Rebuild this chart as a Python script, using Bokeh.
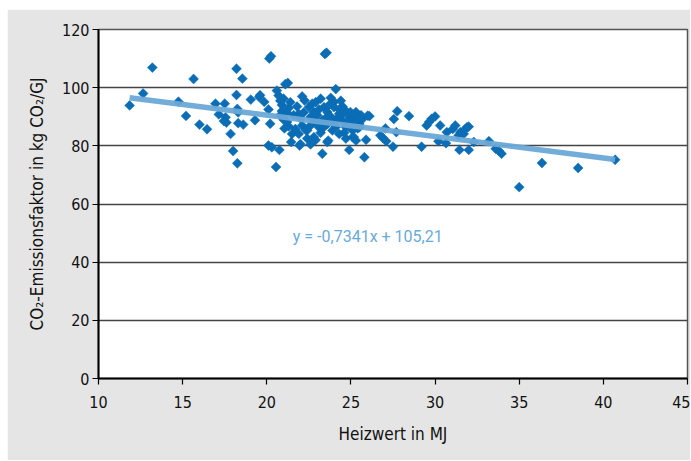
import math
from bokeh.plotting import figure
from bokeh.models import ColumnDataSource, FixedTicker, Label, Spacer
from bokeh.layouts import row, column
from bokeh.embed import file_html
from bokeh.resources import INLINE

# Heizwert (MJ) and CO2 emission factor (kg CO2/GJ)
heizwert = [
    11.85, 12.65, 13.2, 14.75, 15.2, 15.65, 16.0, 16.45, 16.95, 17.5, 17.15, 17.55, 17.45, 17.6,
    17.85, 18.0, 18.25, 18.2, 18.55, 18.2, 18.25, 18.3, 18.3, 18.6, 19.05, 19.3, 19.55, 19.6,
    19.85, 20.15, 20.25, 20.1, 20.2, 20.1, 20.3, 20.75, 20.55, 20.6, 20.7, 21.1, 21.25,
    20.8, 20.9, 21.0, 21.3, 21.0, 21.2, 21.3, 21.5, 21.7, 21.9, 21.45, 21.95, 22.0, 21.9, 22.1,
    22.25, 22.4, 22.5, 22.6, 22.6, 22.8, 22.8, 22.9, 23.1, 23.2, 23.3, 23.4, 23.6, 23.6, 23.3,
    23.6, 23.65, 23.45, 23.55, 23.9, 24.0, 24.0, 24.1, 24.3, 24.3, 24.3, 24.5, 24.7, 24.7, 24.7,
    24.9, 24.9, 25.1, 25.3, 25.3, 25.5, 25.7, 25.8, 25.9, 26.1,
    21.6, 21.8, 22.0, 22.2, 22.3, 22.7, 22.9, 23.0, 23.1, 23.2, 23.4, 23.5, 23.7, 23.8, 23.9,
    24.1, 24.2, 24.4, 24.5, 24.6, 24.8, 25.0, 25.0, 25.2, 25.4, 25.4, 25.6, 25.1, 22.4, 22.6,
    21.2, 21.4, 20.9, 21.05, 20.8, 22.1, 22.9, 23.8, 24.4, 24.97, 25.26, 25.5, 25.5, 25.17, 26.0,
    26.75, 26.9, 27.1, 27.05, 27.5, 27.55, 27.7, 27.75, 28.45, 29.2, 29.5, 29.65, 29.8, 30.0,
    30.3, 30.2, 30.65, 30.7, 31.05, 31.2, 31.4, 31.5, 31.45, 31.7, 31.8, 31.9, 32.0, 32.0, 32.3,
    33.2, 33.6, 33.8, 33.95, 35.0, 36.35, 38.5, 40.7,
]
emissionsfaktor = [
    93.9, 98.0, 106.9, 95.2, 90.3, 103.0, 87.3, 85.7, 94.5, 94.5, 90.8, 89.8, 88.5, 88.0,
    84.1, 78.2, 74.0, 106.5, 103.1, 97.5, 92.7, 91.5, 87.8, 87.3, 95.9, 88.8, 96.8, 97.4,
    95.1, 110.0, 110.8, 92.5, 87.6, 80.1, 79.5, 78.6, 72.7, 99.0, 97.3, 101.2, 101.6,
    95.5, 94.0, 96.2, 93.0, 89.0, 88.2, 86.7, 84.1, 85.8, 84.1, 81.3, 80.1, 80.6, 91.0, 87.0,
    95.6, 85.3, 93.3, 89.9, 87.0, 91.6, 83.0, 82.0, 86.4, 96.2, 88.7, 93.3, 91.6, 87.5, 77.3,
    81.3, 81.8, 111.6, 112.0, 85.3, 95.1, 93.3, 99.5, 92.5, 91.0, 84.1, 88.7, 92.0, 86.4, 82.5,
    90.0, 78.6, 85.3, 91.6, 81.8, 87.5, 89.3, 76.1, 82.1, 90.2,
    90.5, 93.5, 89.5, 91.5, 85.5, 94.5, 88.5, 90.5, 92.5, 84.5, 86.5, 89.5, 94.0, 90.0, 88.0,
    86.5, 89.5, 90.5, 93.5, 84.5, 88.0, 87.5, 89.0, 90.0, 86.0, 88.5, 90.5, 83.0, 82.5, 80.5,
    91.5, 95.0, 92.0, 86.0, 90.5, 97.0, 95.0, 96.5, 95.5, 91.6, 90.5, 89.4, 86.4, 83.0, 90.4,
    83.6, 82.7, 81.6, 86.0, 79.7, 89.2, 84.7, 91.9, 90.2, 79.7, 87.0, 88.2, 89.3, 90.1,
    87.0, 81.6, 80.9, 84.7, 85.8, 87.0, 83.6, 84.7, 78.6, 84.1, 85.8, 86.4, 86.6, 78.6, 81.3,
    81.6, 79.0, 78.2, 77.3, 65.8, 74.1, 72.4, 75.2,
]

# Trend line from the chart
slope = -0.7341
intercept = 105.21
equation_text = "y = -0,7341x + 105,21"

x_ticks = [10, 15, 20, 25, 30, 35, 40, 45]
y_ticks = [0, 20, 40, 60, 80, 100, 120]

FONT = "DejaVu Sans Condensed"
BG = "#e4e5e4"

p = figure(width=683, height=451, x_range=(10, 45), y_range=(0, 120),
           output_backend="svg", toolbar_location=None,
           min_border_left=91, min_border_right=3, min_border_top=20, min_border_bottom=82)
p.border_fill_color = BG
p.background_fill_color = "white"
p.outline_line_color = "#555555"
p.outline_line_width = 1.5

p.xgrid.grid_line_color = None
p.ygrid.grid_line_color = "#444444"
p.ygrid.grid_line_width = 1.6
p.ygrid.ticker = FixedTicker(ticks=y_ticks)

for ax in (p.xaxis[0], p.yaxis[0]):
    ax.axis_line_color = "black"
    ax.axis_line_width = 2
    ax.major_tick_line_color = "black"
    ax.major_tick_line_width = 1.2
    ax.major_tick_out = 6
    ax.major_tick_in = 0
    ax.minor_tick_line_color = None
    ax.major_label_text_font = FONT
    ax.major_label_text_font_size = "16px"
    ax.major_label_text_color = "#111111"
    ax.axis_label_text_font = FONT
    ax.axis_label_text_font_size = "17px"
    ax.axis_label_text_font_style = "normal"
    ax.axis_label_text_color = "#111111"

p.xaxis[0].ticker = FixedTicker(ticks=x_ticks)
p.yaxis[0].ticker = FixedTicker(ticks=y_ticks)
p.xaxis[0].axis_label = "Heizwert in MJ"
p.yaxis[0].axis_label = "CO\u2082-Emissionsfaktor in kg CO\u2082/GJ"
p.xaxis[0].major_label_standoff = 11
p.yaxis[0].major_label_standoff = 3
p.xaxis[0].axis_label_standoff = 13
p.yaxis[0].axis_label_standoff = 12

src = ColumnDataSource(dict(x=heizwert, y=emissionsfaktor))
p.scatter("x", "y", source=src, marker="square", angle=math.pi / 4, size=7,
          fill_color="#0a6db5", line_color="#0a6db5", line_width=0.5)

x0, x1 = min(heizwert), max(heizwert)
p.line([x0, x1], [slope * x0 + intercept, slope * x1 + intercept],
       line_color="#6aa8d6", line_width=5.5, line_alpha=0.95)

lab = Label(x=26.0, y=48.8, text=equation_text, text_align="center", text_baseline="middle",
            text_font="Roboto", text_font_size="16px", text_color="#6aaad8")
p.add_layout(lab)

layout = row(Spacer(width=7, height=460),
             column(Spacer(width=683, height=9), p))

open("out.html", "w").write(file_html(layout, INLINE))
